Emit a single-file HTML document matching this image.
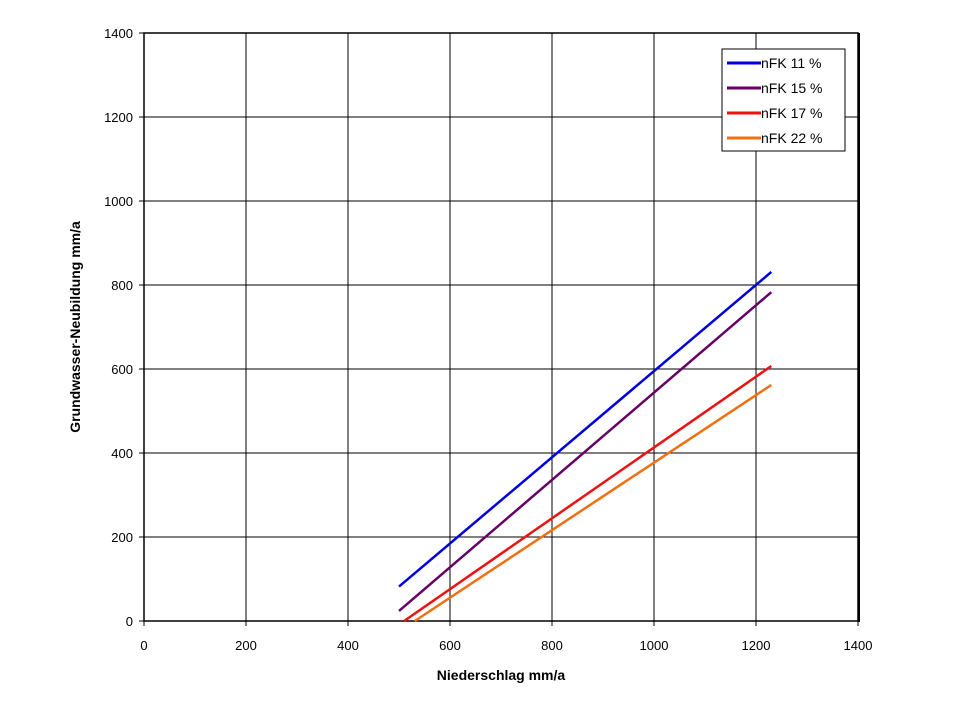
<!DOCTYPE html>
<html><head><meta charset="utf-8"><style>body{margin:0;background:#fff}svg{display:block;font-family:"Liberation Sans",Arial,sans-serif}</style></head>
<body>
<svg id="chart" width="960" height="720" viewBox="0 0 960 720"></svg>
<script>
const xTicks=[0,200,400,600,800,1000,1200,1400];
const yTicks=[0,200,400,600,800,1000,1200,1400];
const seriesNames=["nFK 11 %","nFK 15 %","nFK 17 %","nFK 22 %"];
const seriesColors=["#0000e0","#660066","#ee1111","#f07010"];
const s11x=[500,1230], s11y=[82,831];
const s15x=[500,1230], s15y=[24,783];
const s17x=[510,1230], s17y=[0,607];
const s22x=[531,1230], s22y=[0,562];
const seriesX=[s11x,s15x,s17x,s22x], seriesY=[s11y,s15y,s17y,s22y];
const L=144,R=858,T=33,B=621;
const xs=v=>L+(v/1400)*(R-L), ys=v=>B-(v/1400)*(B-T);
const svg=document.getElementById('chart');const NS='http://www.w3.org/2000/svg';
function mk(t,a,p){const e=document.createElementNS(NS,t);for(const k in a)e.setAttribute(k,a[k]);(p||svg).appendChild(e);return e;}
xTicks.forEach(v=>{const l=mk('line',{x1:xs(v),x2:xs(v),y1:T,y2:B+5,stroke:'#000','stroke-width':1});


const t=mk('text',{x:xs(v),y:B+29,'text-anchor':'middle','font-size':13});t.textContent=v;

});
yTicks.forEach(v=>{const l=mk('line',{x1:L-5,x2:R,y1:ys(v),y2:ys(v),stroke:'#000','stroke-width':1});


const t=mk('text',{x:L-11,y:ys(v)+5,'text-anchor':'end','font-size':13});t.textContent=v;

});
const fr=mk('rect',{x:L,y:T,width:R-L,height:B-T,fill:'none',stroke:'#000','stroke-width':1.5});


mk('line',{x1:R+1,x2:R+1,y1:T,y2:B+1,stroke:'#000','stroke-width':2});
seriesX.forEach((sx,i)=>{const pts=sx.map((x,j)=>xs(x)+','+ys(seriesY[i][j])).join(' ');
const p=mk('polyline',{points:pts,fill:'none',stroke:seriesColors[i],'stroke-width':2.5});

});
const lg=mk('g',{});


mk('rect',{x:722,y:49,width:123,height:102,fill:'#fff',stroke:'#000','stroke-width':1},lg);
seriesNames.forEach((n,i)=>{const y=63+i*25;
const g=mk('g',{},lg);


mk('line',{x1:727,x2:761,y1:y,y2:y,stroke:seriesColors[i],'stroke-width':3},g);
const t=mk('text',{x:761,y:y+5,'font-size':14},g);t.textContent=n;});
const xt=mk('text',{x:501,y:680,'text-anchor':'middle','font-size':14,'font-weight':'bold'});xt.textContent='Niederschlag mm/a';


const yt=mk('text',{x:80,y:327,'text-anchor':'middle','font-size':14,'font-weight':'bold',transform:'rotate(-90 80 327)'});yt.textContent='Grundwasser-Neubildung mm/a';


</script>
</body></html>
